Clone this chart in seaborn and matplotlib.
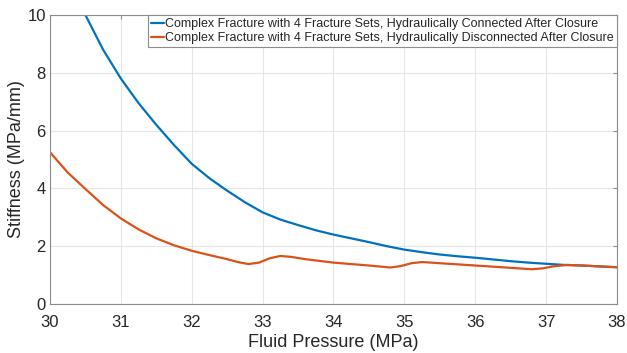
import numpy as np
import pandas as pd
import seaborn as sns
import matplotlib.pyplot as plt

# values
connected_p = [30.4, 30.5, 30.75, 31.0, 31.25, 31.5, 31.75, 32.0, 32.25, 32.5, 32.75,
               33.0, 33.25, 33.5, 33.75, 34.0, 34.25, 34.5, 34.75, 35.0, 35.25, 35.5,
               35.75, 36.0, 36.25, 36.5, 36.75, 37.0, 37.25, 37.5, 37.75, 38.0]
connected_k = [10.5, 10.0, 8.8, 7.8, 6.95, 6.2, 5.5, 4.85, 4.35, 3.92, 3.52,
               3.17, 2.92, 2.73, 2.55, 2.40, 2.27, 2.14, 2.0, 1.88, 1.79, 1.71,
               1.65, 1.60, 1.54, 1.48, 1.43, 1.39, 1.35, 1.33, 1.30, 1.27]

disconnected_p = [30.0, 30.25, 30.5, 30.75, 31.0, 31.25, 31.5, 31.75, 32.0, 32.25, 32.5,
                  32.65, 32.8, 32.95, 33.1, 33.25, 33.4, 33.6, 33.8, 34.0, 34.25, 34.5,
                  34.8, 34.95, 35.1, 35.25, 35.5, 35.75, 36.0, 36.25, 36.5, 36.8, 36.95,
                  37.1, 37.3, 37.5, 37.75, 38.0]
disconnected_k = [5.25, 4.55, 3.98, 3.42, 2.96, 2.58, 2.27, 2.03, 1.84, 1.69, 1.55,
                  1.45, 1.38, 1.43, 1.58, 1.66, 1.63, 1.55, 1.49, 1.43, 1.38, 1.33,
                  1.26, 1.31, 1.41, 1.45, 1.41, 1.37, 1.33, 1.29, 1.25, 1.20, 1.23,
                  1.30, 1.35, 1.33, 1.30, 1.27]

labels = ['Complex Fracture with 4 Fracture Sets, Hydraulically Connected After Closure',
          'Complex Fracture with 4 Fracture Sets, Hydraulically Disconnected After Closure']

df = pd.concat([
    pd.DataFrame({'p': connected_p, 'k': connected_k, 'case': labels[0]}),
    pd.DataFrame({'p': disconnected_p, 'k': disconnected_k, 'case': labels[1]}),
])

sns.set_style('white')
plt.rcParams['font.family'] = ['Liberation Sans', 'DejaVu Sans']

fig = plt.figure(figsize=(6.27, 3.53), dpi=100)
ax = fig.add_axes([0.0797, 0.139, 0.9043, 0.8185])

sns.lineplot(data=df, x='p', y='k', hue='case', palette=['#0072BD', '#D95319'],
             estimator=None, sort=False, linewidth=1.6, ax=ax)

ax.set_xlim(30, 38)
ax.set_ylim(0, 10)
ax.set_xticks(range(30, 39))
ax.set_yticks(range(0, 11, 2))
ax.grid(True, color='#e6e6e6', linewidth=0.8)
for s in ax.spines.values():
    s.set_color('#8c8c8c')
    s.set_linewidth(0.8)
ax.tick_params(direction='in', length=3, color='#8c8c8c', labelsize=12,
               labelcolor='#262626', top=True, right=True)
ax.tick_params(axis='x', pad=8)
ax.tick_params(axis='y', pad=3)
ax.set_xlabel('Fluid Pressure (MPa)', fontsize=13, color='#262626', labelpad=3)
ax.set_ylabel('Stiffness (MPa/mm)', fontsize=13, color='#262626', labelpad=2)

leg = ax.legend(loc='upper right', fontsize=9.0, handlelength=1.0, handletextpad=0.1,
                borderpad=0.25, labelspacing=0.15, fancybox=False, framealpha=1,
                borderaxespad=0)
leg.get_frame().set_edgecolor('#8c8c8c')
leg.get_frame().set_linewidth(0.8)

fig.savefig('out.png', dpi=100)
